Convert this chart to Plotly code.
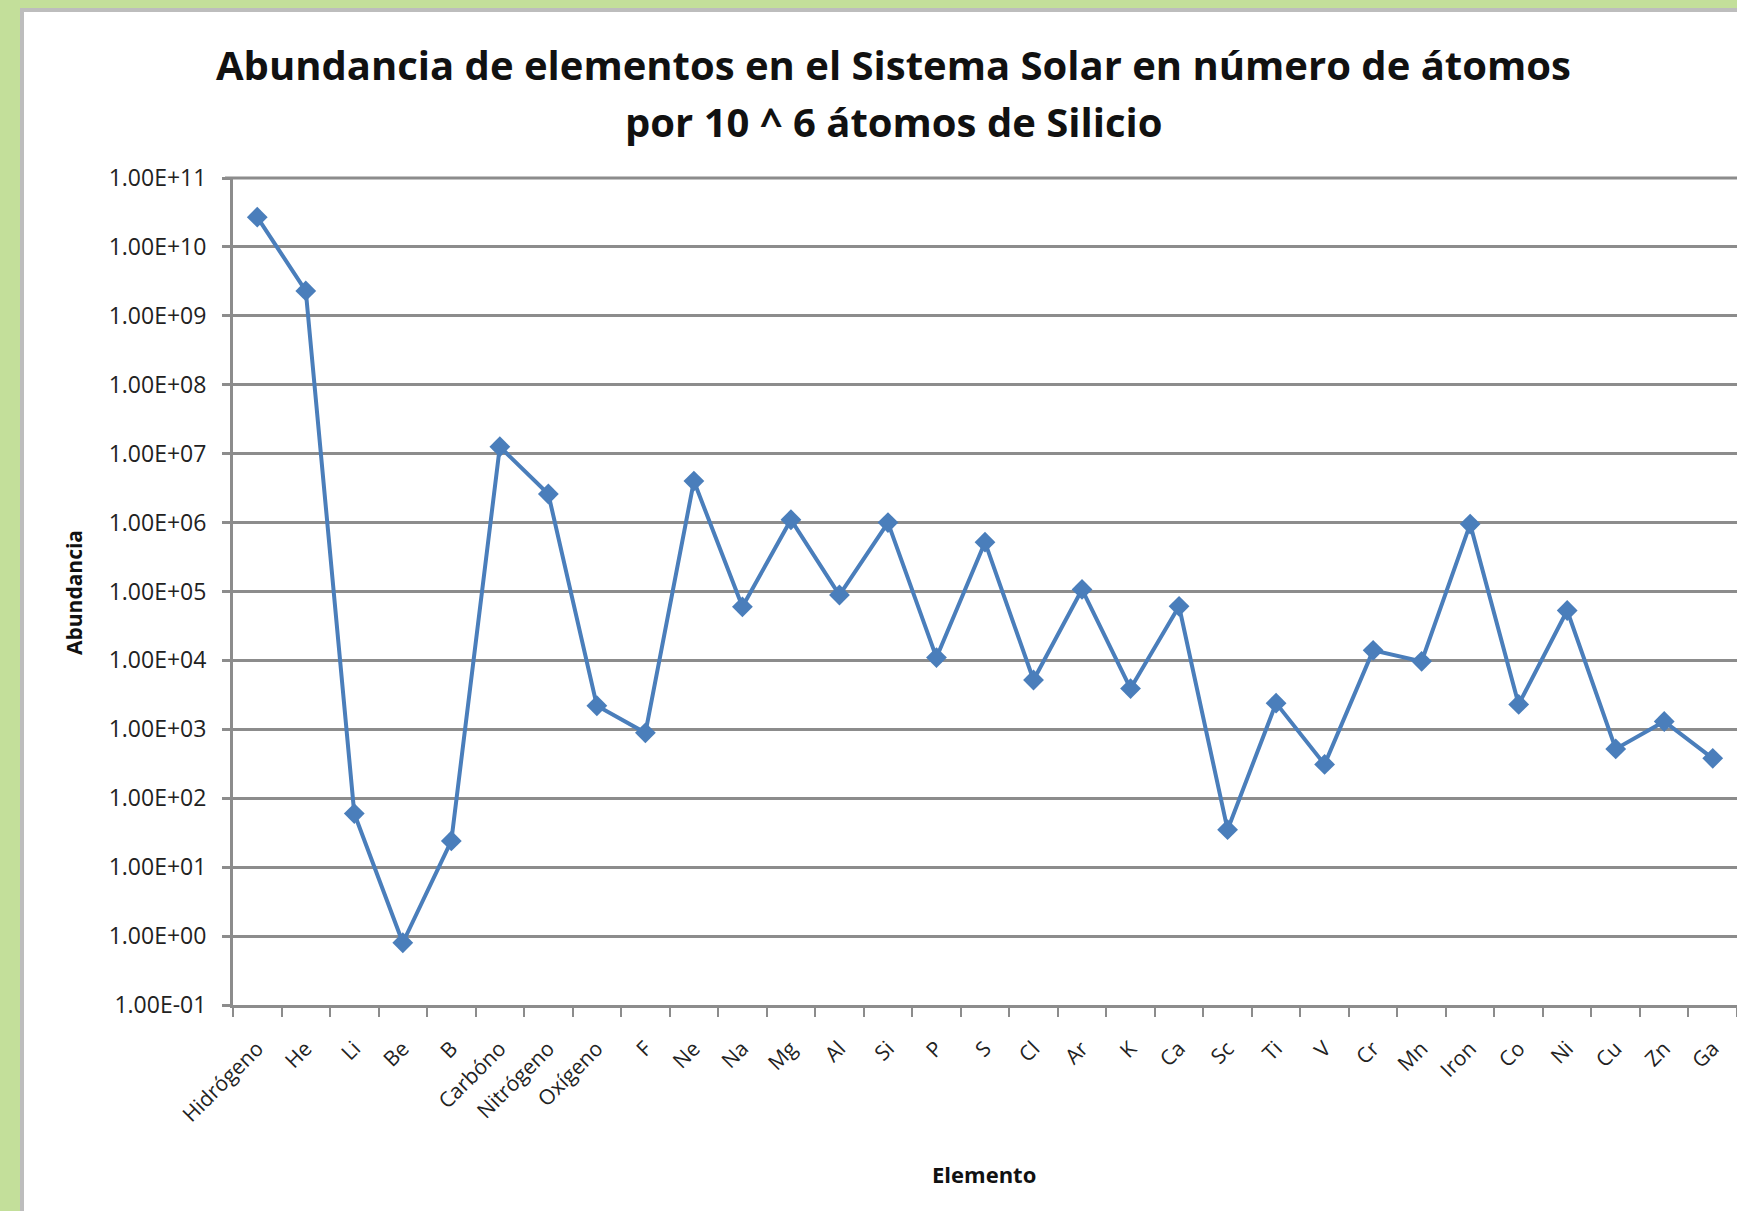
import plotly.graph_objects as go

elements = ["Hidrógeno", "He", "Li", "Be", "B", "Carbóno", "Nitrógeno", "Oxígeno", "F", "Ne",
            "Na", "Mg", "Al", "Si", "P", "S", "Cl", "Ar", "K", "Ca",
            "Sc", "Ti", "V", "Cr", "Mn", "Iron", "Co", "Ni", "Cu", "Zn", "Ga"]
abundance = [2.7e10, 2.3e9, 60, 0.8, 24, 1.26e7, 2.6e6, 2.2e3, 890, 4.0e6,
             6.0e4, 1.1e6, 8.9e4, 1.0e6, 1.1e4, 5.2e5, 5.2e3, 1.07e5, 3.9e3, 6.1e4,
             35, 2.4e3, 310, 1.4e4, 9.7e3, 9.5e5, 2.3e3, 5.3e4, 520, 1.3e3, 380]
y_tickvals = [10.0 ** e for e in range(-1, 12)]
y_ticktext = ["1.00E-01", "1.00E+00", "1.00E+01", "1.00E+02", "1.00E+03", "1.00E+04",
              "1.00E+05", "1.00E+06", "1.00E+07", "1.00E+08", "1.00E+09", "1.00E+10", "1.00E+11"]
title_lines = ["Abundancia de elementos en el Sistema Solar en número de átomos",
               "por 10 ^ 6 átomos de Silicio"]

W, H = 1737, 1211
L, R, T, B = 233, 0, 178, 206
pw, ph = W - L - R, H - T - B

def px(x):
    return (x - L) / pw

def py(y):
    return (H - B - y) / ph

LINE = "#4a7ebb"
GRID = "#8c8c8c"
FONT = "Open Sans, Lato, sans-serif"

fig = go.Figure()
fig.add_trace(go.Scatter(
    x=elements, y=abundance, mode="lines+markers",
    line=dict(color=LINE, width=4),
    marker=dict(symbol="diamond", size=16, color=LINE),
    showlegend=False,
))

fig.update_layout(
    width=W, height=H,
    margin=dict(l=L, r=R, t=T, b=B, pad=0),
    paper_bgcolor="#c3df9a",
    plot_bgcolor="rgba(0,0,0,0)",
    font=dict(family=FONT, color="#222222"),
    shapes=[
        dict(type="rect", xref="paper", yref="paper",
             x0=px(22), x1=px(W + 20), y0=py(H + 20), y1=py(10),
             fillcolor="white", line=dict(color="#bdbdbd", width=4), layer="below"),
        dict(type="line", xref="paper", yref="paper", x0=px(225), x1=1, y0=1, y1=1,
             line=dict(color=GRID, width=3), layer="below"),
    ],
    annotations=[
        dict(text="<b>%s</b>" % title_lines[0], xref="paper", yref="paper", x=px(893), y=py(64),
             showarrow=False, font=dict(family=FONT, size=40, color="#111111"),
             xanchor="center", yanchor="middle"),
        dict(text="<b>%s</b>" % title_lines[1], xref="paper", yref="paper", x=px(893), y=py(122),
             showarrow=False, font=dict(family=FONT, size=40, color="#111111"),
             xanchor="center", yanchor="middle"),
        dict(text="<b>Abundancia</b>", xref="paper", yref="paper", x=px(74), y=py(593),
             textangle=-90, showarrow=False, font=dict(family=FONT, size=21, color="#111111"),
             xanchor="center", yanchor="middle"),
        dict(text="<b>Elemento</b>", xref="paper", yref="paper", x=px(984), y=py(1174),
             showarrow=False, font=dict(family=FONT, size=22, color="#111111"),
             xanchor="center", yanchor="middle"),
    ],
)

fig.update_xaxes(
    type="category", tickson="boundaries", ticks="outside", ticklen=9, tickwidth=2,
    tickcolor=GRID, showline=True, linecolor=GRID, linewidth=3, showgrid=False,
    tickangle=-45, ticklabelstandoff=20,
    tickfont=dict(family=FONT, size=21, color="#222222"),
    range=[-0.5, len(elements) - 0.5],
)
fig.update_yaxes(
    type="log", range=[-1, 11], tickvals=y_tickvals, ticktext=y_ticktext,
    ticks="outside", ticklen=8, tickwidth=3, tickcolor=GRID,
    showline=True, linecolor=GRID, linewidth=3,
    showgrid=True, gridcolor=GRID, gridwidth=3, zeroline=False,
    ticklabelstandoff=11,
    tickfont=dict(family=FONT, size=23, color="#222222"),
)

fig.write_html("out.html", config={"displayModeBar": False},
               post_script="document.body.style.margin='0';document.body.style.overflow='hidden';")
